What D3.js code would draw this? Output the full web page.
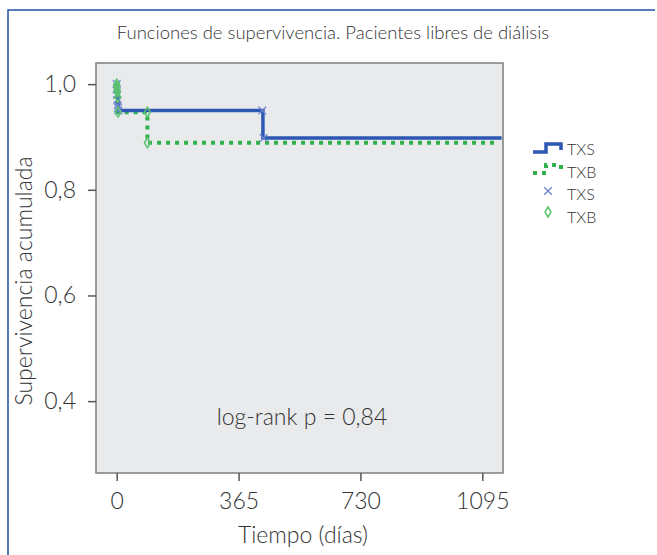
<!DOCTYPE html>
<html>
<head>
<meta charset="utf-8">
<script src="https://cdn.jsdelivr.net/npm/d3@7"></script>
<style>
  body { margin: 0; background: #fff; }
  text { font-family: Lato, "Open Sans", sans-serif; font-weight: 300; fill: #333; }
</style>
</head>
<body>
<svg id="chart" width="657" height="555"></svg>
<script>
// survival steps (days, cumulative survival)
var txsSteps = [[0, 1.0], [1, 0.985], [2, 0.975], [5, 0.95], [438, 0.898], [1153, 0.898]];
var txbSteps = [[0, 1.0], [3, 0.947], [92, 0.889], [1145, 0.889]];
// censored observations
var txsCensored = [[0, 1.0], [0, 0.99], [1, 0.98], [2, 0.97], [3, 0.96], [4, 0.955], [5, 0.95], [436, 0.95], [440, 0.898]];
var txbCensored = [[0, 1.0], [0, 0.995], [1, 0.99], [2, 0.985], [3, 0.975], [4, 0.947], [92, 0.947], [92, 0.889]];
var xTicks = [0, 365, 730, 1095];
var yTicks = [0.4, 0.6, 0.8, 1.0];
var legendLabels = ["TXS", "TXB", "TXS", "TXB"];

var blue = "#2c57b2", green = "#2fb24c";
var svg = d3.select("#chart");

// outer frame (left and top rule)
svg.append("path")
  .attr("d", "M8,555 V10 H655")
  .style("fill", "none")
  .style("stroke", "#1f4fa5")
  .style("stroke-width", 1.5);

var x = d3.scaleLinear().domain([-62, 1157]).range([96, 503]);
var y = d3.scaleLinear().domain([0.264, 1.04]).range([473, 63]);

svg.append("rect")
  .attr("x", 96).attr("y", 63)
  .attr("width", 407).attr("height", 410)
  .style("fill", "#e9eaec")
  .style("stroke", "#7d7d7d")
  .style("stroke-width", 1.5);

var xAxis = svg.append("g")
  .attr("transform", "translate(0,473)")
  .call(d3.axisBottom(x).tickValues(xTicks).tickSize(8).tickPadding(12).tickFormat(d3.format("d")));
var yAxis = svg.append("g")
  .attr("transform", "translate(96,0)")
  .call(d3.axisLeft(y).tickValues(yTicks).tickSize(8).tickPadding(12)
    .tickFormat(function (d) { return d3.format(".1f")(d).replace(".", ","); }));

[xAxis, yAxis].forEach(function (g) {
  g.select(".domain").remove();
  g.selectAll(".tick line").style("stroke", "#555").style("stroke-width", 1.5);
  g.selectAll(".tick text")
    .style("font-family", "Lato, sans-serif")
    .style("font-weight", 300)
    .style("font-size", "23px")
    .style("fill", "#333");
});

var stepLine = d3.line()
  .x(function (d) { return x(d[0]); })
  .y(function (d) { return y(d[1]); })
  .curve(d3.curveStepAfter);

svg.append("path")
  .attr("d", stepLine(txbSteps))
  .style("fill", "none")
  .style("stroke", green)
  .style("stroke-width", 4)
  .style("stroke-dasharray", "4,5");

svg.append("path")
  .attr("d", stepLine(txsSteps))
  .style("fill", "none")
  .style("stroke", blue)
  .style("stroke-width", 3.5);

// censor marks
var cross = d3.symbol().type(d3.symbolX).size(40);
svg.selectAll(".cx")
  .data(txsCensored)
  .enter()
  .append("path")
  .attr("transform", function (d) { return "translate(" + x(d[0]) + "," + y(d[1]) + ")"; })
  .attr("d", cross)
  .style("fill", "none")
  .style("stroke", "#6d86cf")
  .style("stroke-width", 1.3);

svg.selectAll(".cd")
  .data(txbCensored)
  .enter()
  .append("path")
  .attr("transform", function (d) { return "translate(" + x(d[0]) + "," + y(d[1]) + ")"; })
  .attr("d", "M0,-5 L3,0 L0,5 L-3,0 Z")
  .style("fill", "none")
  .style("stroke", "#5cc36f")
  .style("stroke-width", 1.5);

// titles
svg.append("text")
  .attr("x", 333).attr("y", 39)
  .attr("text-anchor", "middle")
  .style("font-size", "18.5px")
  .text("Funciones de supervivencia. Pacientes libres de diálisis");

svg.append("text")
  .attr("x", 303).attr("y", 543)
  .attr("text-anchor", "middle")
  .style("font-size", "23px")
  .text("Tiempo (días)");

svg.append("text")
  .attr("transform", "translate(32,281) rotate(-90)")
  .attr("text-anchor", "middle")
  .style("font-size", "23px")
  .text("Supervivencia acumulada");

svg.append("text")
  .attr("x", 302).attr("y", 425)
  .attr("text-anchor", "middle")
  .style("font-size", "23px")
  .text("log-rank p = 0,84");

// legend
var legend = svg.append("g").attr("transform", "translate(533,0)");
legend.append("path")
  .attr("d", "M0,152 H13 V144 H28 V150")
  .style("fill", "none").style("stroke", blue).style("stroke-width", 3.5);
legend.append("path")
  .attr("d", "M0,173 H13 V165 H28 V171")
  .style("fill", "none").style("stroke", green).style("stroke-width", 4)
  .style("stroke-dasharray", "4,5");
legend.append("path")
  .attr("transform", "translate(15,191)")
  .attr("d", cross)
  .style("fill", "none").style("stroke", "#6d86cf").style("stroke-width", 1.3);
legend.append("path")
  .attr("transform", "translate(15,212)")
  .attr("d", "M0,-5 L3,0 L0,5 L-3,0 Z")
  .style("fill", "none").style("stroke", "#5cc36f").style("stroke-width", 1.5);

legend.selectAll(".lt")
  .data(legendLabels)
  .enter()
  .append("text")
  .attr("x", 34)
  .attr("y", function (d, i) { return 155 + i * 22.5; })
  .style("font-size", "16px")
  .text(function (d) { return d; });
</script>
</body>
</html>
